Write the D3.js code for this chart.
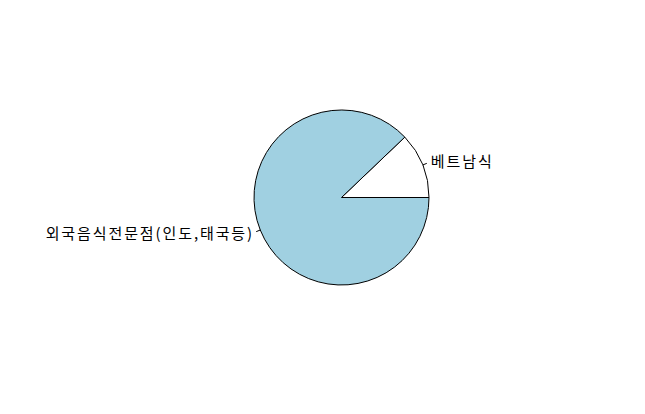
<!DOCTYPE html>
<html><head><meta charset="utf-8">
<script src="https://cdn.jsdelivr.net/npm/d3@7"></script>
<style>body{margin:0;background:#fff}svg{display:block}</style>
</head><body>
<script>
const labels = ["베트남식", "외국음식전문점(인도,태국등)"];
const values = [4, 29];
const colors = ["#ffffff", "#a0d0e1"];

const W = 645, H = 414, cx = 341.5, cy = 197.5, r = 87.5;
const svg = d3.select("body").append("svg").attr("width", W).attr("height", H);
const g = svg.append("g").attr("transform", `translate(${cx},${cy})`);

// R-style pie: start at 3 o'clock, counterclockwise
const total = d3.sum(values);
const angle = d3.scaleLinear().domain([0, total]).range([0, 2 * Math.PI]);
let cum = 0;
const slices = values.map((v, i) => {
  const a0 = angle(cum); cum += v; const a1 = angle(cum);
  return {i, a0, a1};
});
const arc = d3.arc().innerRadius(0).outerRadius(r);
g.selectAll("path").data(slices).join("path")
  .attr("d", d => arc({startAngle: Math.PI/2 - d.a1, endAngle: Math.PI/2 - d.a0}))
  .attr("fill", d => colors[d.i])
  .attr("stroke", "#000").attr("stroke-width", 1);

const ls = 1.9;
slices.forEach(d => {
  const m = (d.a0 + d.a1) / 2;
  const c = Math.cos(m), s = -Math.sin(m);
  g.append("line").attr("x1", r*c).attr("y1", r*s)
    .attr("x2", 1.05*r*c).attr("y2", 1.05*r*s)
    .attr("stroke", "#000").attr("stroke-width", 1);
  g.append("text").attr("x", 1.1*r*c + (c > 0 ? 0 : ls)).attr("y", 1.1*r*s)
    .attr("dy", "0.35em")
    .attr("text-anchor", c > 0 ? "start" : "end")
    .attr("font-family", "'Noto Sans CJK KR', sans-serif")
    .attr("font-size", 15).attr("letter-spacing", ls + "px").attr("fill", "#000")
    .text(labels[d.i]);
});
</script>
</body></html>
